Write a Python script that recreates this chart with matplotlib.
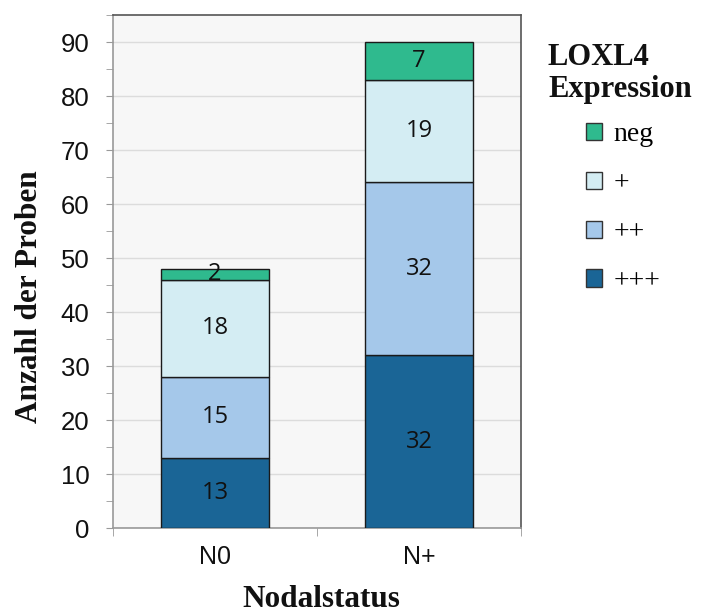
import matplotlib
matplotlib.use("Agg")
import matplotlib.pyplot as plt
from matplotlib.patches import Patch
from matplotlib.ticker import MultipleLocator, FixedLocator

categories = ["N0", "N+"]
levels = ["+++", "++", "+", "neg"]
values = {
    "+++": [13, 32],
    "++": [15, 32],
    "+": [18, 19],
    "neg": [2, 7],
}
colors = {
    "+++": "#1a6596",
    "++": "#a5c8ea",
    "+": "#d4edf3",
    "neg": "#2fba8e",
}
yticks = [0, 10, 20, 30, 40, 50, 60, 70, 80, 90]

fig = plt.figure(figsize=(7.06, 6.13), dpi=100)
W, H = 706, 613
ax = fig.add_axes([113 / W, 1 - 528 / H, (521 - 113) / W, (528 - 15) / H])
ax.set_facecolor("#f7f7f7")

x = list(range(len(categories)))
bottom = [0] * len(categories)
for lev in levels:
    bars = ax.bar(x, values[lev], width=0.53, bottom=bottom, color=colors[lev],
                  edgecolor="#1a1a1a", linewidth=1.0, zorder=3)
    ax.bar_label(bars, labels=[str(v) for v in values[lev]], label_type="center",
                 fontsize=17, family="Open Sans", color="#111111", zorder=4)
    bottom = [b + v for b, v in zip(bottom, values[lev])]

ax.set_xlim(-0.5, 1.5)
ax.set_ylim(0, 95)
ax.set_yticks(yticks)
ax.yaxis.set_minor_locator(MultipleLocator(5))
ax.set_xticks(x)
ax.set_xticklabels(categories)
ax.xaxis.set_minor_locator(FixedLocator([-0.5, 0.5, 1.5]))
ax.tick_params(axis="x", which="major", length=0, pad=12, labelsize=18)
ax.tick_params(axis="x", which="minor", length=6, color="#999999", direction="out")
ax.tick_params(axis="y", which="major", length=5, color="#999999", labelsize=18.5, pad=12)
ax.tick_params(axis="y", which="minor", length=5, color="#999999")
for lab in ax.get_xticklabels() + ax.get_yticklabels():
    lab.set_family("Liberation Sans")
    lab.set_color("#111111")

ax.grid(axis="y", which="major", color="#dcdcdc", linewidth=1.0, zorder=0)
ax.set_axisbelow(True)
for s in ["top", "right"]:
    ax.spines[s].set_color("#555555")
    ax.spines[s].set_linewidth(1.2)
for s in ["left", "bottom"]:
    ax.spines[s].set_color("#999999")
    ax.spines[s].set_linewidth(1.2)

serif = "Liberation Serif"
fig.text(30 / W, 1 - 297 / H, "Anzahl der Proben", family=serif, fontweight="bold",
         fontsize=22.5, rotation=90, ha="center", va="center", color="#111111")
fig.text(321 / W, 1 - 607 / H, "Nodalstatus", family=serif, fontweight="bold",
         fontsize=22.5, ha="center", va="baseline", color="#111111")

fig.text(548 / W, 1 - 65 / H, "LOXL4", family=serif, fontweight="bold",
         fontsize=22, va="baseline", ha="left", color="#111111")
fig.text(548 / W, 1 - 97 / H, "Expression", family=serif, fontweight="bold",
         fontsize=22, va="baseline", ha="left", color="#111111")

handles = [Patch(facecolor=colors[l], edgecolor="#333333", linewidth=1.0) for l in reversed(levels)]
leg = fig.legend(handles, list(reversed(levels)), loc="upper left",
                 bbox_to_anchor=(564 / W, 1 - 100 / H), frameon=False,
                 handlelength=0.58, handleheight=0.58, handletextpad=0.4,
                 labelspacing=0.86, borderpad=0.3,
                 prop={"family": serif, "size": 20})

fig.savefig("out.png", dpi=100)
